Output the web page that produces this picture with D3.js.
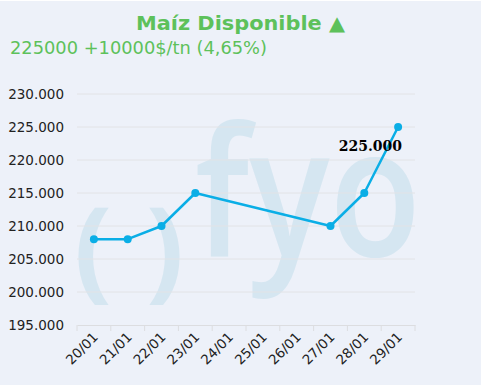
<!DOCTYPE html>
<html lang="es">
  <head>
    <meta charset="UTF-8">
    <title>Maíz Disponible</title>
    <script src="https://d3js.org/d3.v7.min.js"></script>
    <style>
      body { margin: 0; background: #fff; }
      svg { display: block; }
    </style>
  </head>
  <body>
    <script>
      // data
      const fechas = ["20/01", "21/01", "22/01", "23/01", "24/01", "25/01", "26/01", "27/01", "28/01", "29/01"];
      const precios = [208000, 208000, 210000, 215000, null, null, null, 210000, 215000, 225000];
      const yTicks = [195000, 200000, 205000, 210000, 215000, 220000, 225000, 230000];
      const titulo = "Maíz Disponible ▲";
      const subtitulo = "225000 +10000$/tn (4,65%)";

      const w = 483, h = 386;
      const padL = 77, padR = 415, padT = 94, padB = 325;
      const green = "#5dc15b";
      const lineColor = "#0aaee6";

      const svg = d3.select("body").append("svg")
        .attr("width", w)
        .attr("height", h);

      svg.append("rect")
        .attr("x", 0).attr("y", 1)
        .attr("width", 481).attr("height", 384)
        .attr("fill", "#edf1f9");

      const x = d3.scaleBand().domain(fechas).range([padL, padR]);
      const y = d3.scaleLinear().domain([195000, 230000]).range([padB, padT]);

      // watermark (logo)
      const wm = svg.append("g").attr("fill", "#d5e6f1")
        .style("font-family", "'Open Sans', sans-serif")
        .style("font-weight", 700);
      wm.append("text").attr("x", 195).attr("y", 256)
        .attr("textLength", 226).attr("lengthAdjust", "spacingAndGlyphs")
        .style("font-weight", 600)
        .style("font-size", "180px").text("fyo");
      wm.append("text").attr("x", 74).attr("y", 287)
        .style("font-size", "112px").text("(");
      wm.append("text").attr("x", 146).attr("y", 287)
        .style("font-size", "112px").text(")");

      // grid
      svg.append("g").selectAll("line")
        .data(yTicks.filter(d => d !== 195000))
        .enter().append("line")
        .attr("x1", padL).attr("x2", padR)
        .attr("y1", d => y(d)).attr("y2", d => y(d))
        .attr("stroke", "#e2e3e6").attr("stroke-width", 1);

      // y axis labels
      const fmt = d => d3.format(",")(d).replace(/,/g, ".");
      svg.append("g").selectAll("text")
        .data(yTicks).enter().append("text")
        .attr("x", 64).attr("y", d => y(d) + 5)
        .attr("text-anchor", "end")
        .style("font-family", "'DejaVu Sans', Verdana, sans-serif")
        .style("font-size", "13.5px")
        .attr("fill", "#222")
        .text(fmt);

      // x axis
      const xAxis = d3.axisBottom(x).tickSize(0).tickFormat("");
      const gx = svg.append("g").attr("transform", `translate(0,${padB})`).call(xAxis);
      gx.select(".domain").attr("stroke", "#dcdde0");
      const bounds = fechas.map(d => x(d)).concat([padR]);
      gx.selectAll(".tk").data(bounds).enter().append("line")
        .attr("x1", d => d).attr("x2", d => d)
        .attr("y1", 0).attr("y2", 6)
        .attr("stroke", "#dcdde0");

      svg.append("g").selectAll("text")
        .data(fechas).enter().append("text")
        .attr("text-anchor", "end")
        .attr("transform", d => `translate(${x(d) + x.bandwidth() / 2 + 5},${padB + 13}) rotate(-45)`)
        .style("font-family", "'DejaVu Sans', Verdana, sans-serif")
        .style("font-size", "13.5px")
        .attr("fill", "#222")
        .text(d => d);

      // line
      const pts = fechas.map((f, i) => ({ f, v: precios[i] })).filter(d => d.v !== null);
      const cx = d => x(d.f) + x.bandwidth() / 2;
      const line = d3.line().x(cx).y(d => y(d.v));
      svg.append("path").datum(pts)
        .attr("d", line)
        .attr("fill", "none")
        .attr("stroke", lineColor)
        .attr("stroke-width", 2.5)
        .attr("stroke-linejoin", "round");

      svg.append("g").selectAll("circle")
        .data(pts).enter().append("circle")
        .attr("cx", cx).attr("cy", d => y(d.v))
        .attr("r", 4)
        .attr("fill", lineColor);

      // last value label
      const last = pts[pts.length - 1];
      svg.append("text")
        .attr("x", cx(last) + 4).attr("y", y(last.v) + 24)
        .attr("text-anchor", "end")
        .style("font-family", "'DejaVu Serif', serif")
        .style("font-weight", "bold")
        .style("font-size", "14px")
        .attr("fill", "#000")
        .text(fmt(last.v));

      // titles
      svg.append("text")
        .attr("x", 136).attr("y", 30)
        .attr("textLength", 209).attr("lengthAdjust", "spacingAndGlyphs")
        .style("font-family", "'DejaVu Sans', Verdana, sans-serif")
        .style("font-weight", "bold")
        .style("font-size", "20px")
        .attr("fill", green)
        .text(titulo);

      svg.append("text")
        .attr("x", 10).attr("y", 54)
        .attr("textLength", 257).attr("lengthAdjust", "spacingAndGlyphs")
        .style("font-family", "'DejaVu Sans', Verdana, sans-serif")
        .style("font-size", "17px")
        .attr("fill", green)
        .text(subtitulo);
    </script>
  </body>
</html>
